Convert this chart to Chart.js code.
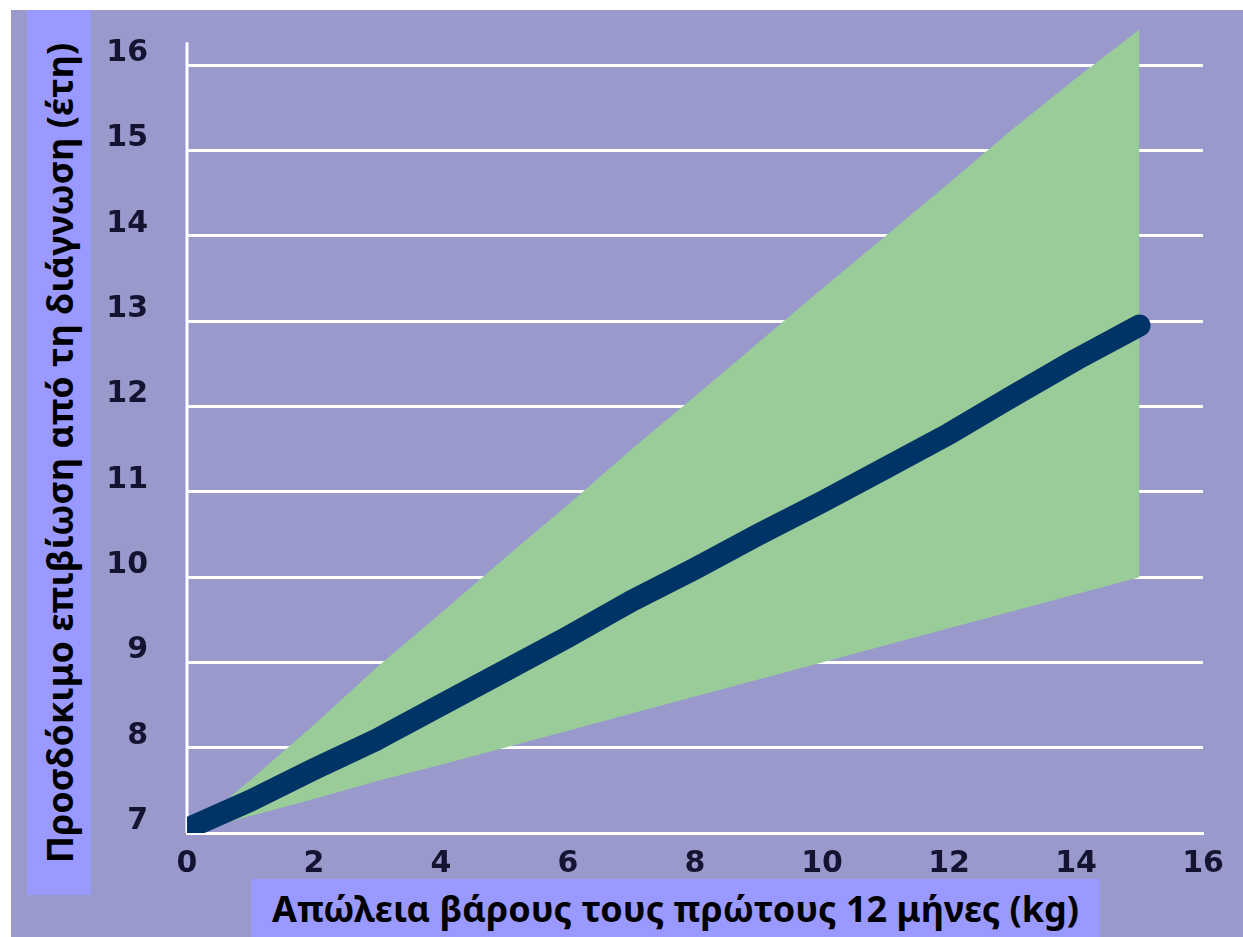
<!DOCTYPE html>
<html>
<head>
<meta charset="utf-8">
<script src="https://cdn.jsdelivr.net/npm/chart.js@4.4.1/dist/chart.umd.min.js"></script>
<style>
  html, body { margin: 0; padding: 0; background: #ffffff; }
  body { width: 1243px; height: 937px; position: relative; overflow: hidden; }
  #panel { position: absolute; left: 11px; top: 10px; width: 1232px; height: 927px; background: #9999CC; }
  #chart { position: absolute; left: 0; top: 0; }
  .ybox { position: absolute; left: 16px; top: 0; width: 64px; height: 885px; background: #9999FF; }
  .ybox span {
    position: absolute; left: 50%; top: 50%;
    transform: translate(-50%, -50%) rotate(-90deg);
    white-space: nowrap; color: #000;
    font: bold 36px "Noto Sans", "Open Sans", sans-serif;
  }
  .xbox {
    position: absolute; left: 240px; top: 869px; width: 849px; height: 58px;
    background: #9999FF; color: #000; text-align: center; white-space: nowrap;
    font: bold 36px "Noto Sans", "Open Sans", sans-serif; line-height: 60px;
  }
</style>
</head>
<body>
<div id="panel">
  <canvas id="chart" width="1232" height="927"></canvas>
  <div class="ybox"><span>Προσδόκιμο επιβίωση από τη διάγνωση (έτη)</span></div>
  <div class="xbox">Απώλεια βάρους τους πρώτους 12 μήνες (kg)</div>
</div>
<script>
// Weight lost in the first 12 months (kg)
const weightLossKg = [0, 1, 2, 3, 4, 5, 6, 7, 8, 9, 10, 11, 12, 13, 14, 15];
// Expected survival from diagnosis (years): central estimate and its band
const survivalExpected = [7.05, 7.38, 7.75, 8.10, 8.50, 8.90, 9.30, 9.72, 10.10, 10.50, 10.88, 11.28, 11.68, 12.12, 12.55, 12.95];
const survivalUpper    = [7.00, 7.62, 8.27, 8.95, 9.58, 10.22, 10.85, 11.50, 12.12, 12.75, 13.38, 14.00, 14.62, 15.25, 15.85, 16.42];
const survivalLower    = [7.00, 7.20, 7.40, 7.61, 7.80, 8.00, 8.20, 8.40, 8.60, 8.80, 9.00, 9.20, 9.40, 9.60, 9.80, 10.00];

// Axis tick labels
const xTicks = [0, 2, 4, 6, 8, 10, 12, 14, 16];
const yTicks = [7, 8, 9, 10, 11, 12, 13, 14, 15, 16];
const yAxisTop = 16.27;   // where the vertical axis line stops

const toPoints = ys => weightLossKg.map((x, i) => ({ x, y: ys[i] }));

const tickFont = { family: '"DejaVu Sans", Verdana, sans-serif', weight: 'bold', size: 30 };

// vertical axis line at x = 0, drawn beneath the data
const yAxisLine = {
  id: 'yAxisLine',
  beforeDatasetsDraw(chart) {
    const { ctx, scales: { x, y } } = chart;
    const px = x.getPixelForValue(0);
    ctx.save();
    ctx.strokeStyle = '#ffffff';
    ctx.lineWidth = 3;
    ctx.beginPath();
    ctx.moveTo(px, y.getPixelForValue(yAxisTop));
    ctx.lineTo(px, y.bottom);
    ctx.stroke();
    ctx.restore();
  }
};

new Chart(document.getElementById('chart'), {
  type: 'line',
  data: {
    datasets: [
      {
        label: 'expected',
        data: toPoints(survivalExpected),
        borderColor: '#003366',
        borderWidth: 22,
        borderCapStyle: 'round',
        borderJoinStyle: 'round',
        pointRadius: 0,
        fill: false,
        order: 0
      },
      {
        label: 'upper',
        data: toPoints(survivalUpper),
        borderColor: 'rgba(0,0,0,0)',
        borderWidth: 0,
        backgroundColor: '#99CC99',
        pointRadius: 0,
        fill: '+1',
        order: 1
      },
      {
        label: 'lower',
        data: toPoints(survivalLower),
        borderColor: 'rgba(0,0,0,0)',
        borderWidth: 0,
        pointRadius: 0,
        fill: false,
        order: 1
      }
    ]
  },
  options: {
    responsive: false,
    devicePixelRatio: 1,
    animation: false,
    layout: { padding: { left: 0, top: 17, right: 40, bottom: 0 } },
    plugins: { legend: { display: false }, tooltip: { enabled: false } },
    scales: {
      x: {
        type: 'linear',
        min: xTicks[0],
        max: xTicks[xTicks.length - 1],
        afterBuildTicks: s => { s.ticks = xTicks.map(v => ({ value: v })); },
        afterFit: s => { s.height = 104; s.paddingLeft = 0; s.paddingRight = 0; },
        grid: { display: false, drawTicks: false },
        border: { display: true, color: '#ffffff', width: 3 },
        ticks: { color: '#141432', font: tickFont, padding: 13, maxRotation: 0 }
      },
      y: {
        type: 'linear',
        min: yTicks[0],
        max: 16.45,
        afterBuildTicks: s => { s.ticks = yTicks.map(v => ({ value: v })); },
        afterFit: s => { s.width = 176; s.paddingTop = 0; s.paddingBottom = 0; },
        grid: { color: '#ffffff', lineWidth: 3, drawTicks: false },
        border: { display: false },
        ticks: { color: '#141432', font: tickFont, padding: 39, labelOffset: -12 }
      }
    }
  },
  plugins: [yAxisLine]
});
</script>
</body>
</html>
